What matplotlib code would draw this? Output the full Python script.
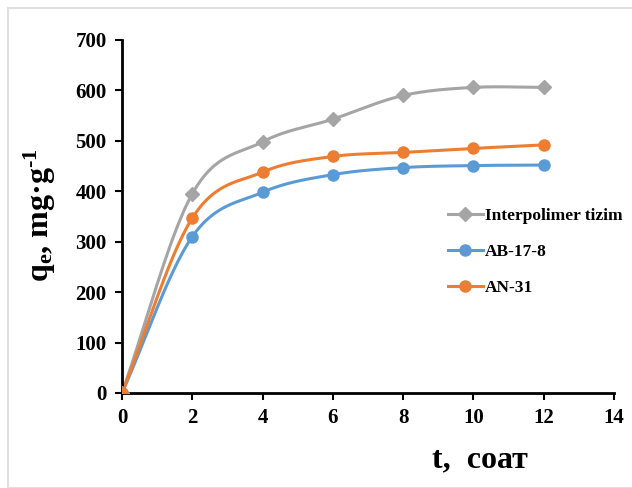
import numpy as np
import matplotlib
matplotlib.use("Agg")
import matplotlib.pyplot as plt
from matplotlib.patches import Rectangle

t = [0, 2, 4, 6, 8, 10, 12]
interpolimer = [0, 395, 498, 543, 590, 606, 606]
ab178 = [0, 310, 398, 433, 447, 451, 452]
an31 = [0, 347, 438, 469, 477, 485, 492]
labels = ["Interpolimer tizim", "AB-17-8", "AN-31"]
colors = ["#A5A5A5", "#5B9BD5", "#ED7D31"]
markers = ["D", "o", "o"]


def smooth(x, y, n=30):
    x = np.asarray(x, float); y = np.asarray(y, float)
    px = np.concatenate([[2 * x[0] - x[1]], x, [2 * x[-1] - x[-2]]])
    py = np.concatenate([[2 * y[0] - y[1]], y, [2 * y[-1] - y[-2]]])
    xs, ys = [], []
    for i in range(1, len(px) - 2):
        s = np.linspace(0, 1, n, endpoint=False)
        p0x, p1x, p2x, p3x = px[i - 1:i + 3]
        p0y, p1y, p2y, p3y = py[i - 1:i + 3]
        k = 1 / 6
        c1x = p1x + (p2x - p0x) * k; c1y = p1y + (p2y - p0y) * k
        c2x = p2x - (p3x - p1x) * k; c2y = p2y - (p3y - p1y) * k
        bx = (1 - s) ** 3 * p1x + 3 * (1 - s) ** 2 * s * c1x + 3 * (1 - s) * s ** 2 * c2x + s ** 3 * p2x
        by = (1 - s) ** 3 * p1y + 3 * (1 - s) ** 2 * s * c1y + 3 * (1 - s) * s ** 2 * c2y + s ** 3 * p2y
        xs.extend(bx); ys.extend(by)
    xs.append(x[-1]); ys.append(y[-1])
    return np.array(xs), np.array(ys)


plt.rcParams['font.family'] = ['Liberation Serif', 'DejaVu Serif']
plt.rcParams['mathtext.fontset'] = 'custom'
plt.rcParams['mathtext.rm'] = 'Liberation Serif:bold'
plt.rcParams['mathtext.bf'] = 'Liberation Serif:bold'
plt.rcParams['mathtext.default'] = 'bf'

fig = plt.figure(figsize=(6.32, 4.88), dpi=100)
fig.patches.append(Rectangle((8 / 632, 0), 1, 1 - 8 / 488, transform=fig.transFigure,
                             fill=False, edgecolor="#E0E0E0", linewidth=1.5))
ax = fig.add_axes([122 / 632, 95 / 488, (614 - 122) / 632, (393 - 40) / 488])

for ys, lab, c, m in zip([interpolimer, ab178, an31], labels, colors, markers):
    ms = 8 if m == "o" else 7
    sx, sy = smooth(t, ys)
    ax.plot(sx, sy, color=c, lw=2.2, zorder=2)
    ax.plot(t, ys, linestyle="none", marker=m, color=c, markersize=ms, zorder=3)
    ax.plot([], [], color=c, lw=2.2, marker=m, markersize=ms, label=lab)

ax.set_xlim(0, 14)
ax.set_ylim(0, 700)
ax.set_xticks(range(0, 15, 2))
ax.set_yticks(range(0, 701, 100))
for s in ["top", "right"]:
    ax.spines[s].set_visible(False)
for s in ["left", "bottom"]:
    ax.spines[s].set_linewidth(2)
ax.tick_params(direction="out", length=5, width=1.5, labelsize=15, pad=6)
for lbl in ax.get_xticklabels() + ax.get_yticklabels():
    lbl.set_fontweight("bold")

fig.text(40 / 632, 1 - 215 / 488, "q$_{e}$, mg·g$^{\u20101}$",
         rotation=90, ha="center", va="center", fontsize=23, fontweight="bold")
fig.text(480 / 632, 1 - 460 / 488, "t,  соат", ha="center", va="center",
         fontsize=23, fontweight="bold")

leg = ax.legend(loc="upper left", bbox_to_anchor=(441 / 632, 1 - 201 / 488),
                bbox_transform=fig.transFigure, frameon=False,
                prop={"weight": "bold", "size": 12.5}, handlelength=2.0,
                handletextpad=0.15, labelspacing=1.15, borderaxespad=0)

fig.savefig("out.png", dpi=100)
